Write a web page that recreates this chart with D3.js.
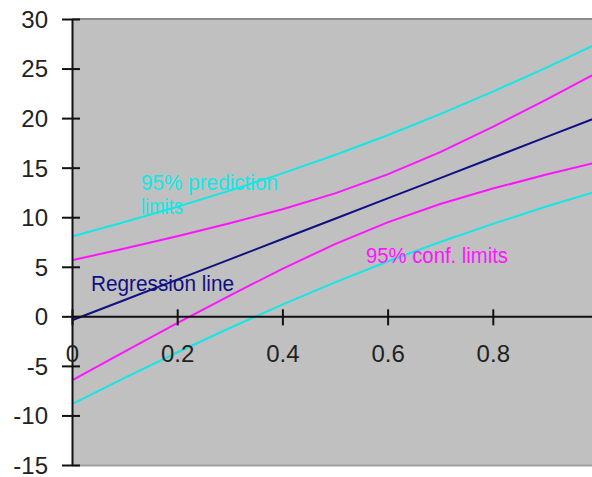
<!DOCTYPE html>
<html>
<head>
<meta charset="utf-8">
<script src="https://cdn.jsdelivr.net/npm/d3@7"></script>
<style>
  html, body { margin: 0; padding: 0; background: #ffffff; }
  svg { display: block; }
  text { font-family: "Liberation Sans", Arial, sans-serif; }
</style>
</head>
<body>
<svg id="chart" width="592" height="477"></svg>
<script>
// x positions of the fitted curve
const xValues = [0, 0.1, 0.2, 0.3, 0.4, 0.5, 0.6, 0.7, 0.8, 0.9, 1.0];
// fitted regression line
const regression = [-0.4, 1.65, 3.7, 5.75, 7.8, 9.85, 11.9, 13.95, 16.0, 18.05, 20.1];
// 95% confidence limits for the mean
const confUpper = [5.65, 6.85, 8.09, 9.4, 10.81, 12.41, 14.32, 16.57, 19.11, 21.82, 24.64];
const confLower = [-6.45, -3.55, -0.69, 2.1, 4.79, 7.29, 9.48, 11.33, 12.89, 14.28, 15.56];
// 95% prediction limits
const predUpper = [8.05, 9.51, 11.05, 12.68, 14.42, 16.28, 18.27, 20.4, 22.67, 25.05, 27.54];
const predLower = [-8.85, -6.21, -3.65, -1.18, 1.18, 3.42, 5.53, 7.5, 9.33, 11.05, 12.66];
// axis ticks
const yTicks = [-15, -10, -5, 0, 5, 10, 15, 20, 25, 30];
const yTickLabels = ["-15", "-10", "-5", "0", "5", "10", "15", "20", "25", "30"];
const xTicks = [0, 0.2, 0.4, 0.6, 0.8];
const xTickLabels = ["0", "0.2", "0.4", "0.6", "0.8"];

const svg = d3.select("#chart");
const x = d3.scaleLinear().domain([0, 1]).range([72, 598]);
const y = d3.scaleLinear().domain([-15, 30]).range([465, 19]);

const CYAN = "#14e6e6", MAGENTA = "#ff14ff", NAVY = "#101080";

// plot area
svg.append("rect")
  .attr("x", x(0)).attr("y", y(30))
  .attr("width", x(1) - x(0)).attr("height", y(-15) - y(30))
  .attr("fill", "#c0c0c0");
svg.append("line")
  .attr("x1", x(0)).attr("x2", x(1)).attr("y1", y(30)).attr("y2", y(30))
  .attr("stroke", "#8c8c8c").attr("stroke-width", 2);
svg.append("line")
  .attr("x1", x(0)).attr("x2", x(1)).attr("y1", y(-15) + 0.5).attr("y2", y(-15) + 0.5)
  .attr("stroke", "#a0a0a0").attr("stroke-width", 2);

// series
const pts = vals => vals.map((v, i) => [xValues[i], v]);
const line = d3.line().x(d => x(d[0])).y(d => y(d[1]));
const series = [
  { vals: predUpper, color: CYAN },
  { vals: predLower, color: CYAN },
  { vals: confUpper, color: MAGENTA },
  { vals: confLower, color: MAGENTA },
  { vals: regression, color: NAVY }
];
svg.append("g").selectAll("path").data(series).join("path")
  .attr("d", s => line(pts(s.vals)))
  .attr("fill", "none")
  .attr("stroke", s => s.color)
  .attr("stroke-width", 2);

// y axis
const yAxis = svg.append("g")
  .attr("transform", `translate(${x(0)},0)`)
  .call(d3.axisLeft(y).tickValues(yTicks).tickSizeOuter(0)
    .tickFormat((d, i) => yTickLabels[i]));
yAxis.select(".domain").attr("stroke", "#111").attr("stroke-width", 2);
yAxis.selectAll(".tick line").attr("x1", 8).attr("x2", -10).attr("stroke", "#111").attr("stroke-width", 2);
yAxis.selectAll(".tick text")
  .attr("x", -24).attr("dy", "0.35em")
  .attr("font-size", 24).attr("fill", "#222");

// x axis at zero
const xAxis = svg.append("g")
  .attr("transform", `translate(0,${y(0)})`)
  .call(d3.axisBottom(x).tickValues(xTicks).tickSizeOuter(0)
    .tickFormat((d, i) => xTickLabels[i]));
xAxis.select(".domain").attr("stroke", "#111").attr("stroke-width", 2);
xAxis.selectAll(".tick line").attr("y1", -7).attr("y2", 9).attr("stroke", "#111").attr("stroke-width", 2);
xAxis.selectAll(".tick text")
  .attr("y", 46).attr("dy", 0)
  .attr("font-size", 24).attr("fill", "#222");

// annotations
const notes = [
  { text: "95% prediction", x: 141, y: 190, len: 137, color: CYAN },
  { text: "limits", x: 141, y: 214, len: 42, color: CYAN },
  { text: "Regression line", x: 91, y: 291, len: 143, color: NAVY },
  { text: "95% conf. limits", x: 366, y: 263, len: 142, color: MAGENTA }
];
svg.append("g").selectAll("text").data(notes).join("text")
  .attr("x", d => d.x).attr("y", d => d.y)
  .attr("font-size", 22)
  .attr("textLength", d => d.len)
  .attr("lengthAdjust", "spacingAndGlyphs")
  .attr("fill", d => d.color)
  .text(d => d.text);
</script>
</body>
</html>
